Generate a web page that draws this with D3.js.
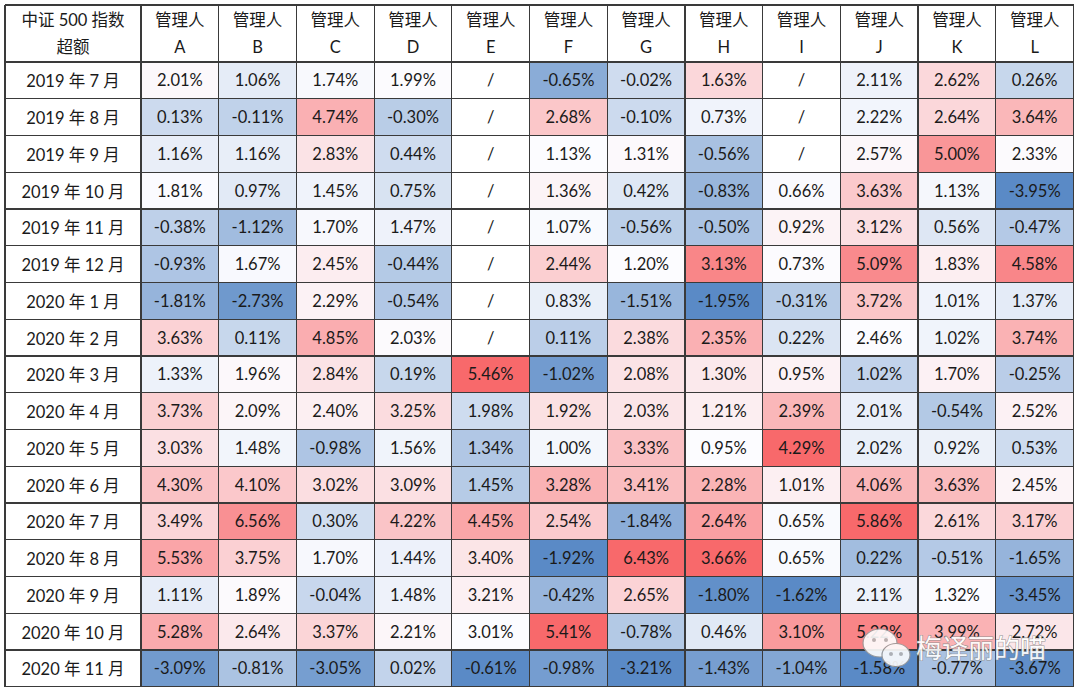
<!DOCTYPE html>
<html><head><meta charset="utf-8">
<script src="https://cdn.jsdelivr.net/npm/d3@7"></script>
<style>
body{margin:0;background:#fff;}
svg{display:block;}
text{font-family:Lato,"Noto Sans CJK SC",sans-serif;}
</style></head>
<body><svg id="c" width="1080" height="695"></svg>
<script>
const cornerLabel = ["中证 500 指数", "超额"];
const managers = ["A","B","C","D","E","F","G","H","I","J","K","L"];
const months = ["2019 年 7 月","2019 年 8 月","2019 年 9 月","2019 年 10 月","2019 年 11 月","2019 年 12 月",
  "2020 年 1 月","2020 年 2 月","2020 年 3 月","2020 年 4 月","2020 年 5 月","2020 年 6 月",
  "2020 年 7 月","2020 年 8 月","2020 年 9 月","2020 年 10 月","2020 年 11 月"];
// excess return (%) per manager, by month; null = "/"
const mgrA = [2.01,0.13,1.16,1.81,-0.38,-0.93,-1.81,3.63,1.33,3.73,3.03,4.30,3.49,5.53,1.11,5.28,-3.09];
const mgrB = [1.06,-0.11,1.16,0.97,-1.12,1.67,-2.73,0.11,1.96,2.09,1.48,4.10,6.56,3.75,1.89,2.64,-0.81];
const mgrC = [1.74,4.74,2.83,1.45,1.70,2.45,2.29,4.85,2.84,2.40,-0.98,3.02,0.30,1.70,-0.04,3.37,-3.05];
const mgrD = [1.99,-0.30,0.44,0.75,1.47,-0.44,-0.54,2.03,0.19,3.25,1.56,3.09,4.22,1.44,1.48,2.21,0.02];
const mgrE = [null,null,null,null,null,null,null,null,5.46,1.98,1.34,1.45,4.45,3.40,3.21,3.01,-0.61];
const mgrF = [-0.65,2.68,1.13,1.36,1.07,2.44,0.83,0.11,-1.02,1.92,1.00,3.28,2.54,-1.92,-0.42,5.41,-0.98];
const mgrG = [-0.02,-0.10,1.31,0.42,-0.56,1.20,-1.51,2.38,2.08,2.03,3.33,3.41,-1.84,6.43,2.65,-0.78,-3.21];
const mgrH = [1.63,0.73,-0.56,-0.83,-0.50,3.13,-1.95,2.35,1.30,1.21,0.95,2.28,2.64,3.66,-1.80,0.46,-1.43];
const mgrI = [null,null,null,0.66,0.92,0.73,-0.31,0.22,0.95,2.39,4.29,1.01,0.65,0.65,-1.62,3.10,-1.04];
const mgrJ = [2.11,2.22,2.57,3.63,3.12,5.09,3.72,2.46,1.02,2.01,2.02,4.06,5.86,0.22,2.11,5.22,-1.58];
const mgrK = [2.62,2.64,5.00,1.13,0.56,1.83,1.01,1.02,1.70,-0.54,0.92,3.63,2.61,-0.51,1.32,3.99,-0.77];
const mgrL = [0.26,3.64,2.33,-3.95,-0.47,4.58,1.37,3.74,-0.25,2.52,0.53,2.45,3.17,-1.65,-3.45,2.72,-3.67];
const series = [mgrA,mgrB,mgrC,mgrD,mgrE,mgrF,mgrG,mgrH,mgrI,mgrJ,mgrK,mgrL];
// per-column colour-scale stops (low / middle / high)
const colorLo  = [-3.95,-3.4,-4.1,-3.45,-0.61,-1.4,-3.21,-1.95,-1.62,-1.58,-2.8,-3.95];
const colorMid = [1.85,1.8,1.9,1.95,3.01,1.12,1.2,0.95,0.695,2.46,1.32,2.3];
const colorHi  = [8.1,8.3,7.4,7.95,5.46,5.41,6.43,3.66,4.29,5.86,6.6,5.15];
const watermark = "梅译丽的喵";

const svg = d3.select("#c");
const leftX = 5, firstW = 136, topY = 5, headH = 57;
const rightX = 1073.5, bottomY = 686.7;
const x = d3.scaleBand().domain(managers).range([leftX + firstW, rightX]);
const y = d3.scaleBand().domain(months).range([topY + headH, bottomY]);

const colScales = managers.map((m, i) => d3.scaleLinear()
  .domain([colorLo[i], colorMid[i], colorHi[i]])
  .range(["#5A8AC6", "#FCFCFF", "#F8696B"]).clamp(true));

const cells = [];
series.forEach((vals, ci) => vals.forEach((v, ri) => cells.push({m: managers[ci], mo: months[ri], v, ci})));

svg.append("g").selectAll("rect").data(cells).join("rect")
  .attr("x", d => x(d.m)).attr("y", d => y(d.mo))
  .attr("width", x.bandwidth()).attr("height", y.bandwidth())
  .attr("fill", d => d.v === null ? "#ffffff" : colScales[d.ci](d.v));

svg.append("g").selectAll("text").data(cells).join("text")
  .attr("x", d => x(d.m) + x.bandwidth() / 2)
  .attr("y", d => y(d.mo) + y.bandwidth() / 2 + 6)
  .attr("text-anchor", "middle").attr("font-size", 16.5).attr("fill", "#1a1a1a")
  .text(d => d.v === null ? "/" : d.v.toFixed(2) + "%");

// row labels
svg.append("g").selectAll("text").data(months).join("text")
  .attr("x", leftX + firstW / 2).attr("y", d => y(d) + y.bandwidth() / 2 + 7)
  .attr("text-anchor", "middle").attr("font-size", 16.5).attr("fill", "#1a1a1a")
  .text(d => d);

// header
const hdr = svg.append("g");
hdr.selectAll("text.l1").data(managers).join("text").attr("class", "l1")
  .attr("x", d => x(d) + x.bandwidth() / 2).attr("y", topY + 21)
  .attr("text-anchor", "middle").attr("font-size", 16.5).attr("fill", "#1a1a1a").text("管理人");
hdr.selectAll("text.l2").data(managers).join("text").attr("class", "l2")
  .attr("x", d => x(d) + x.bandwidth() / 2).attr("y", topY + 48)
  .attr("text-anchor", "middle").attr("font-size", 16.5).attr("fill", "#1a1a1a").text(d => d);
hdr.selectAll("text.c").data(cornerLabel).join("text").attr("class", "c")
  .attr("x", leftX + firstW / 2).attr("y", (d, i) => topY + 21 + i * 27)
  .attr("text-anchor", "middle").attr("font-size", 16.5).attr("fill", "#1a1a1a").text(d => d);

// grid lines
const grid = svg.append("g").attr("stroke", "#3a3a3a").attr("stroke-width", 1.2).attr("shape-rendering", "crispEdges");
const xs = [leftX, leftX + firstW, ...managers.map(m => x(m) + x.bandwidth())];
const ys = [topY, topY + headH, ...months.map(m => y(m) + y.bandwidth())];
xs.forEach(v => grid.append("line").attr("x1", v).attr("x2", v).attr("y1", topY).attr("y2", bottomY));
ys.forEach(v => grid.append("line").attr("y1", v).attr("y2", v).attr("x1", leftX).attr("x2", rightX));

// watermark
const wm = svg.append("g").attr("opacity", 0.9);
wm.append("ellipse").attr("cx", 880).attr("cy", 643).attr("rx", 17).attr("ry", 14)
  .attr("fill", "#fff").attr("stroke", "#9a9a9a").attr("stroke-width", 1.2);
wm.append("ellipse").attr("cx", 896).attr("cy", 655).attr("rx", 14).attr("ry", 11.5)
  .attr("fill", "#fff").attr("stroke", "#9a9a9a").attr("stroke-width", 1.2);
[[874,640],[886,640],[891,654],[901,654]].forEach(p =>
  wm.append("circle").attr("cx", p[0]).attr("cy", p[1]).attr("r", 2).attr("fill", "#b5b5b5"));
wm.append("text").attr("x", 916).attr("y", 658).attr("font-size", 26)
  .attr("fill", "#fff").attr("stroke", "#8a8a8a").attr("stroke-width", 1.1).attr("paint-order", "stroke")
  .attr("font-family", "Noto Sans CJK SC").text(watermark);
</script></body></html>
